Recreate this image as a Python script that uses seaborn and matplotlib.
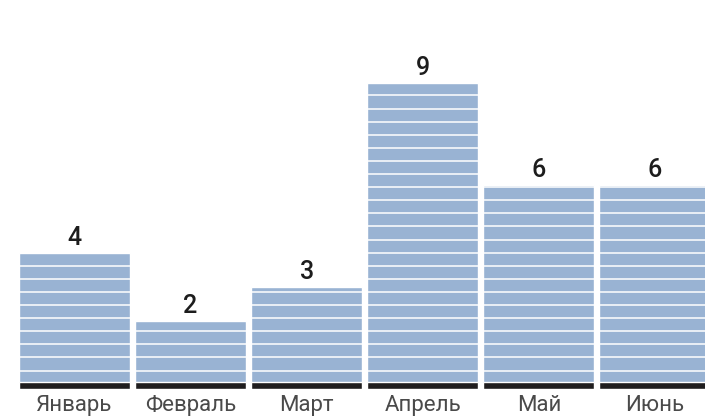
import numpy as np
import pandas as pd
import seaborn as sns
import matplotlib.pyplot as plt

months = ["Январь", "Февраль", "Март", "Апрель", "Май", "Июнь"]
values = [4, 2, 3, 9, 6, 6]

sns.set_theme(style="white")
plt.rcParams['font.family'] = ['Roboto', 'DejaVu Sans']

df = pd.DataFrame({"month": months, "value": values})

fig = plt.figure(figsize=(7.05, 4.18), dpi=100)
ax = fig.add_axes([0, 29 / 418, 1, 389 / 418])

bar_w = 0.956
sns.barplot(data=df, x="month", y="value", color="#99b3d3", saturation=1,
            width=bar_w, ax=ax, zorder=1)
# black base strip at the bottom of each bar
sns.barplot(x=months, y=np.full(len(months), 0.22), color="#1f1d1e",
            saturation=1, width=bar_w, ax=ax, zorder=2)

# horizontal white stripes across the bars
step = 13.1 / 34
for y in np.arange(0.22 + 11 / 34, 9.2, step):
    ax.axhline(y, color="white", lw=1.1, zorder=3)

for i, v in enumerate(values):
    ax.text(i, v + 15 / 34, str(v), ha="center", va="center",
            fontsize=18, color="#1d1d1d", fontweight="medium", zorder=5)

ax.set_xlim(-0.642, 5.431)
ax.set_ylim(0, 389 / 34)
ax.set_xlabel("")
ax.set_ylabel("")
ax.set_yticks([])
ax.tick_params(axis="x", length=0, pad=4, labelsize=16, labelcolor="#4a4a4a")
sns.despine(ax=ax, left=True, bottom=True)

fig.savefig("out.png", dpi=100)
